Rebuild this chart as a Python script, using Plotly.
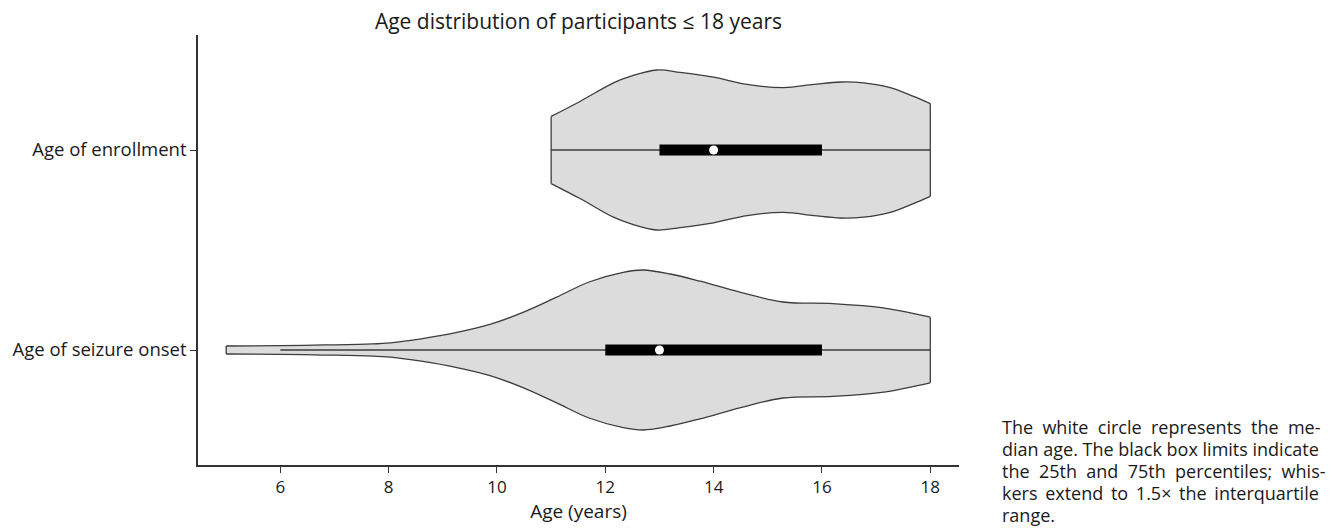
import plotly.graph_objects as go

# ---------------- data ----------------
categories = ["Age of enrollment", "Age of seizure onset"]

# violin outline: ages (years) and relative density (max = 1)
enroll_age = [11.0, 11.54, 12.15, 12.46, 12.95, 13.38, 14.0, 14.62, 15.29, 15.85, 16.34, 16.77, 17.26, 17.69, 18.0]
enroll_dens = [0.42, 0.61, 0.84, 0.92, 1.00, 0.97, 0.91, 0.82, 0.78, 0.82, 0.85, 0.84, 0.78, 0.67, 0.58]

onset_age = [5.0, 6.0, 6.8, 7.7, 8.03, 8.6, 9.26, 9.87, 10.48, 11.1, 11.7, 12.33, 12.7, 13.2, 13.75, 14.5, 15.28, 16.2, 17.1, 18.0]
onset_dens = [0.05, 0.055, 0.063, 0.076, 0.09, 0.14, 0.22, 0.32, 0.47, 0.66, 0.85, 0.97, 1.00, 0.95, 0.86, 0.72, 0.60, 0.58, 0.53, 0.41]

# box statistics
whisker_low = [11, 6]
q1 = [13, 12]
median = [14, 13]
q3 = [16, 16]
whisker_high = [18, 18]

x_ticks = [6, 8, 10, 12, 14, 16, 18]

note_lines = [
    ["The", "white", "circle", "represents", "the", "me-"],
    ["dian", "age.", "The", "black", "box", "limits", "indicate"],
    ["the", "25th", "and", "75th", "percentiles;", "whis-"],
    ["kers", "extend", "to", "1.5×", "the", "interquartile"],
    ["range."],
]
# word gaps used to imitate the justified paragraph of the reference
note_gaps = [" \u00a0", " ", " \u00a0", " \u2009", " "]

# ---------------- styling ----------------
HALF = 0.4          # max half-width of a violin in category units
FILL = "#dcdcdc"
EDGE = "#3c3c3c"
FONT = "Open Sans"
TXT = "#1a1a1a"

W, H = 1331, 520     # page body adds an 8px margin
ML, MR, MT, MB = 190, 380, 27, 63
plot_h = H - MT - MB

fig = go.Figure()

violins = [(enroll_age, enroll_dens), (onset_age, onset_dens)]
for i, (ages, dens) in enumerate(violins):
    top = [i - d * HALF for d in dens]
    bot = [i + d * HALF for d in dens]
    fig.add_trace(go.Scatter(x=ages, y=top, mode="lines",
                             line=dict(color=EDGE, width=1.3, shape="spline", smoothing=1.0),
                             hoverinfo="skip", showlegend=False))
    fig.add_trace(go.Scatter(x=ages, y=bot, mode="lines", fill="tonexty", fillcolor=FILL,
                             line=dict(color=EDGE, width=1.3, shape="spline", smoothing=1.0),
                             hoverinfo="skip", showlegend=False))
    for k in (0, -1):
        fig.add_trace(go.Scatter(x=[ages[k], ages[k]], y=[top[k], bot[k]], mode="lines",
                                 line=dict(color=EDGE, width=1.3),
                                 hoverinfo="skip", showlegend=False))

for i in range(len(categories)):
    fig.add_trace(go.Scatter(x=[whisker_low[i], whisker_high[i]], y=[i, i], mode="lines",
                             line=dict(color=EDGE, width=1.5),
                             hoverinfo="skip", showlegend=False))
    fig.add_trace(go.Scatter(x=[q1[i], q3[i]], y=[i, i], mode="lines",
                             line=dict(color="black", width=11),
                             hoverinfo="skip", showlegend=False))
    fig.add_trace(go.Scatter(x=[median[i]], y=[i], mode="markers",
                             marker=dict(color="white", size=9, line=dict(width=0)),
                             hoverinfo="skip", showlegend=False))

line_y = [419, 441, 463, 485, 507]   # figure pixel centres of the note lines
annotations = []
for words, gap, yy in zip(note_lines, note_gaps, line_y):
    annotations.append(dict(text=gap.join(words), xref="paper", yref="paper",
                            x=(992 - ML) / (W - ML - MR), y=(H - MB - yy) / plot_h,
                            xanchor="left", yanchor="middle", align="left", showarrow=False,
                            font=dict(family=FONT, size=18, color=TXT)))

fig.update_layout(
    width=W, height=H,
    margin=dict(l=ML, r=MR, t=MT, b=MB, autoexpand=False),
    plot_bgcolor="white", paper_bgcolor="white",
    font=dict(family=FONT, size=18, color=TXT),
    title=dict(text="Age distribution of participants ≤ 18 years",
               x=0.5, xref="paper", xanchor="center",
               y=1 - 14 / H, yref="container", yanchor="middle",
               font=dict(family=FONT, size=21, color=TXT)),
    xaxis=dict(range=[4.48, 18.53], tickvals=x_ticks, showgrid=False, zeroline=False,
               automargin=False,
               showline=True, linecolor="#333333", linewidth=1.5,
               ticks="outside", ticklen=6, tickwidth=1.2, tickcolor="#333333",
               tickfont=dict(size=17, color=TXT),
               title=dict(text="Age (years)", font=dict(size=19, color=TXT), standoff=6)),
    yaxis=dict(range=[1.575, -0.575], tickvals=[0, 1], ticktext=categories,
               showgrid=False, zeroline=False, automargin=False,
               showline=True, linecolor="#333333", linewidth=1.5,
               ticks="outside", ticklen=6, tickwidth=1.2, tickcolor="#333333",
               tickfont=dict(size=18.5, color=TXT)),
    annotations=annotations,
)

fig.write_html("out.html")
